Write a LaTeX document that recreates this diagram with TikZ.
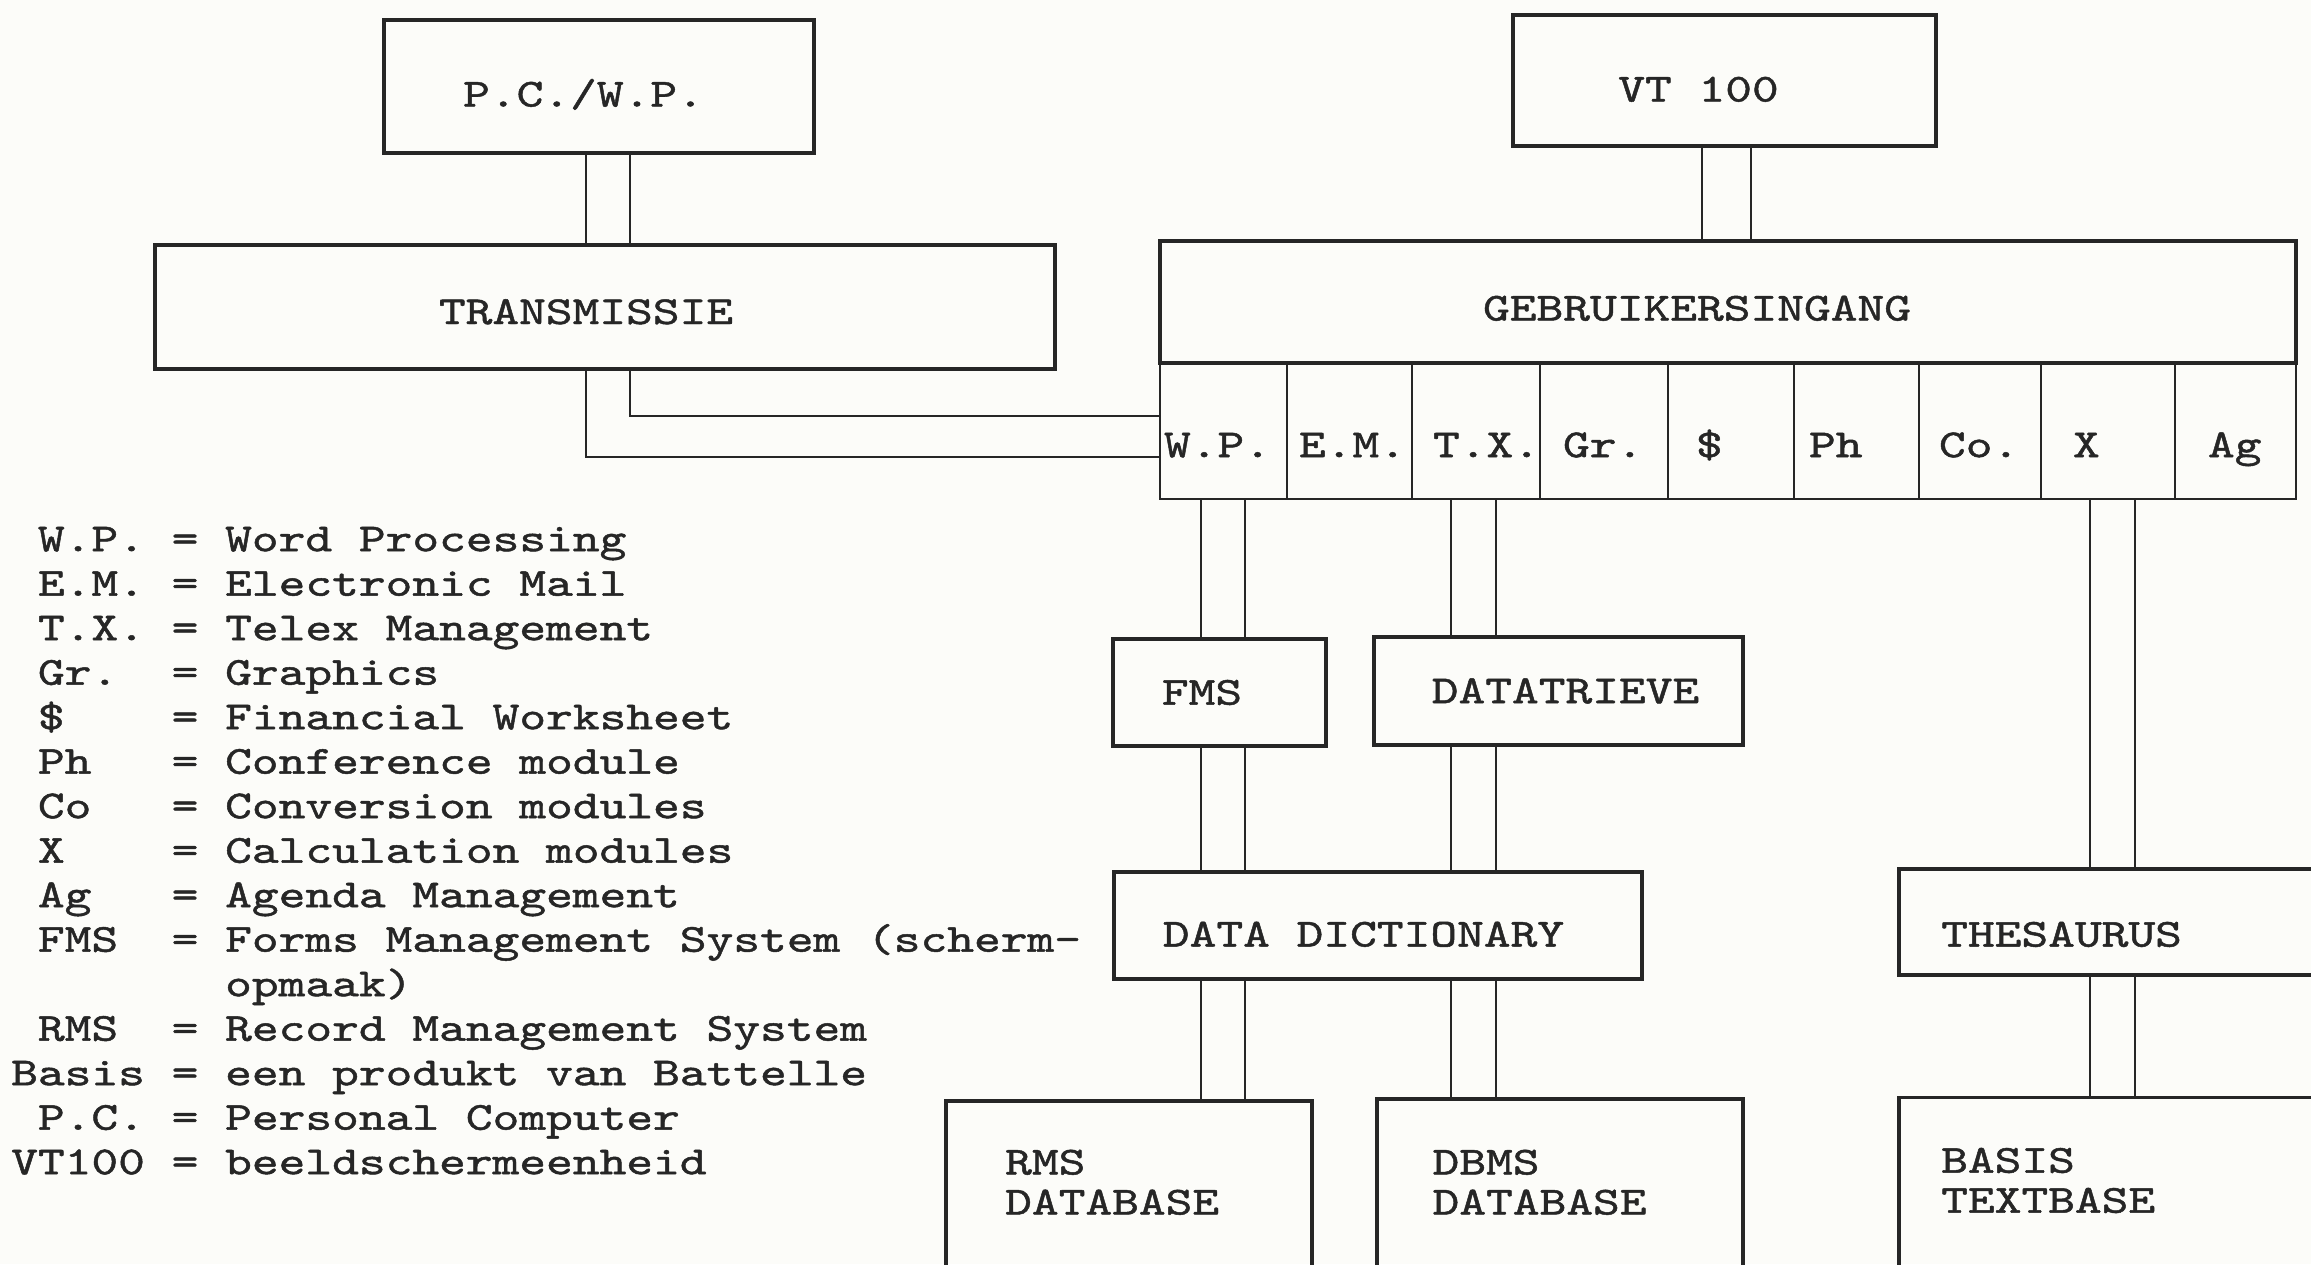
\documentclass[tikz,border=0pt]{standalone}
\usepackage{fontspec}
\newfontfamily\tw{lmmono10-regular.otf}[FakeStretch=1.28,FakeBold=1.2]
\definecolor{ink}{RGB}{38,38,38}
\definecolor{paper}{RGB}{252,252,249}
\begin{document}
\begin{tikzpicture}[x=1pt,y=-1pt,
  every node/.style={font=\tw\fontsize{39.8}{40}\selectfont, text=ink},
  box/.style={draw=ink, line width=3.4pt, inner sep=0pt, text height=24.3pt, text depth=0pt},
  cell/.style={box, line width=2.6pt, align=left, minimum height=136pt, text height=52.3pt},
  link/.style={draw=ink, line width=2.4pt},
  legend/.style={font=\tw\fontsize{39.8}{44.5}\selectfont, align=left, inner sep=0pt}]
\useasboundingbox (0,0) rectangle (2311,1264);
\fill[paper] (0,0) rectangle (2311,1264);
\clip (0,0) rectangle (2311,1264);

% top boxes
\node[box, minimum width=430pt, minimum height=133pt, text height=40pt] (pcwp) at (599,86.5) {P.C./W.P.\hspace*{31pt}};
\node[box, minimum width=423pt, minimum height=131pt, text height=42pt] (vt) at (1724.5,80.5) {VT 100\hspace*{52pt}};
\node[box, minimum width=900pt, minimum height=124pt, text height=34pt] (trans) at (605,307) {TRANSMISSIE\hspace*{38pt}};
\node[box, minimum width=1136pt, minimum height=122pt, text height=37pt] (gebr) at (1728,302) {GEBRUIKERSINGANG\hspace*{62pt}};

% cells
\node[cell, inner xsep=4pt,  text width=119pt] (cWP) at (1223.5,431) {W.P.};
\node[cell, inner xsep=12pt, text width=101pt] (cEM) at (1349.5,431) {E.M.};
\node[cell, inner xsep=21pt, text width=86pt]  (cTX) at (1476,431) {T.X.};
\node[cell, inner xsep=23pt, text width=82pt]  (cGr) at (1604,431) {Gr.};
\node[cell, inner xsep=28pt, text width=70pt]  (cDo) at (1731,431) {\$};
\node[cell, inner xsep=15pt, text width=95pt]  (cPh) at (1856.5,431) {Ph};
\node[cell, inner xsep=20pt, text width=82pt]  (cCo) at (1980,431) {Co.};
\node[cell, inner xsep=32pt, text width=70pt]  (cX)  at (2108,431) {X};
\node[cell, inner xsep=33pt, text width=55pt]  (cAg) at (2235.5,431) {Ag};

% middle boxes
\node[box, minimum width=213pt, minimum height=107pt] (fms) at (1219.5,692.5) {FMS\hspace*{35pt}};
\node[box, minimum width=369pt, minimum height=108pt] (dt) at (1558.5,691) {DATATRIEVE\hspace*{-14pt}};
\node[box, minimum width=528pt, minimum height=107pt, text height=42pt] (dd) at (1378,925.5) {DATA DICTIONARY\hspace*{29pt}};
\node[box, minimum width=501pt, minimum height=106pt] (thes) at (2149.5,922) {};
\node[anchor=base west, inner sep=0pt] (thesT) at (1941,946.6) {THESAURUS};

% bottom boxes (cut off by the page edge)
\node[box, minimum width=366pt, minimum height=299pt] (rms) at (1129,1250.5) {};
\node[box, minimum width=366pt, minimum height=301pt] (dbms) at (1560,1249.5) {};
\node[box, minimum width=501pt, minimum height=302pt] (basis) at (2149.5,1248.5) {};
\node[anchor=north west, align=left, inner sep=0pt] (rmsT) at (1005,1149.5) {RMS\\DATABASE};
\node[anchor=north west, align=left, inner sep=0pt] (dbmsT) at (1432.4,1149.5) {DBMS\\DATABASE};
\node[anchor=north west, align=left, inner sep=0pt] (basisT) at (1941,1147.7) {BASIS\\TEXTBASE};

% legend
\node[legend, anchor=north west] (leg) at (11,526.7) {%
\phantom{x}W.P.~=~Word~Processing\\
\phantom{x}E.M.~=~Electronic~Mail\\
\phantom{x}T.X.~=~Telex~Management\\
\phantom{x}Gr.~~=~Graphics\\
\phantom{x}\$~~~~=~Financial~Worksheet\\
\phantom{x}Ph~~~=~Conference~module\\
\phantom{x}Co~~~=~Conversion~modules\\
\phantom{x}X~~~~=~Calculation~modules\\
\phantom{x}Ag~~~=~Agenda~Management\\
\phantom{x}FMS~~=~Forms~Management~System~(scherm-\\
\phantom{xxxxxxxx}opmaak)\\
\phantom{x}RMS~~=~Record~Management~System\\
Basis~=~een~produkt~van~Battelle\\
\phantom{x}P.C.~=~Personal~Computer\\
VT100~=~beeldschermeenheid};

% connectors
\foreach \x in {586,630} \draw[link] (pcwp.south -| \x,0) -- (trans.north -| \x,0);
\foreach \x in {1702,1751} \draw[link] (vt.south -| \x,0) -- (gebr.north -| \x,0);
\draw[link] (trans.south -| 586,0) |- (cWP.west |- 0,457);
\draw[link] (trans.south -| 630,0) |- (cWP.west |- 0,416);
\foreach \x in {1201,1245} {
  \draw[link] (cWP.south -| \x,0) -- (fms.north -| \x,0);
  \draw[link] (fms.south -| \x,0) -- (dd.north -| \x,0);
  \draw[link] (dd.south -| \x,0) -- (rms.north -| \x,0);
}
\foreach \x in {1451,1496} {
  \draw[link] (cTX.south -| \x,0) -- (dt.north -| \x,0);
  \draw[link] (dt.south -| \x,0) -- (dd.north -| \x,0);
  \draw[link] (dd.south -| \x,0) -- (dbms.north -| \x,0);
}
\foreach \x in {2090,2135} {
  \draw[link] (cX.south -| \x,0) -- (thes.north -| \x,0);
  \draw[link] (thes.south -| \x,0) -- (basis.north -| \x,0);
}
\end{tikzpicture}
\end{document}
